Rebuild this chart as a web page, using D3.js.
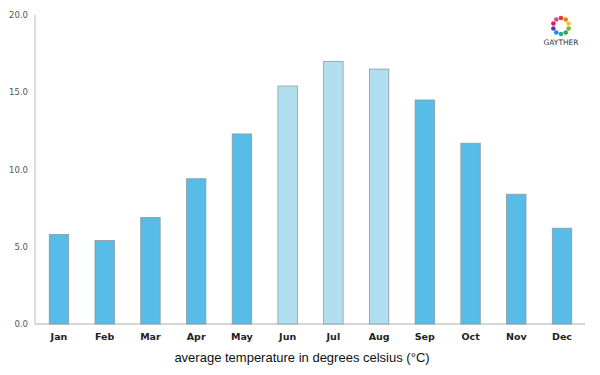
<!DOCTYPE html>
<html><head><meta charset="utf-8">
<script src="https://cdn.jsdelivr.net/npm/d3@7"></script>
<style>body{margin:0;background:#fff}</style>
</head><body>
<svg id="c" width="600" height="375"></svg>
<script>
const months = ["Jan","Feb","Mar","Apr","May","Jun","Jul","Aug","Sep","Oct","Nov","Dec"];
const temps = [5.8,5.4,6.9,9.4,12.3,15.4,17.0,16.5,14.5,11.7,8.4,6.2];
const summer = ["Jun","Jul","Aug"];
const yTicks = [0,5,10,15,20];
const title = "average temperature in degrees celsius (°C)";
const logoColors = ["#e53935","#f57c00","#fbc02d","#7cb342","#43a047","#26a69a","#1e88e5","#5e35b1","#d81b60","#ec407a"];

const svg = d3.select("#c");
const x = d3.scaleBand().domain(months).range([36, 585]).paddingInner(0.575).paddingOuter(0.29);
const y = d3.scaleLinear().domain([0,20]).range([324,15]);

svg.append("line").attr("x1",35).attr("x2",35).attr("y1",15).attr("y2",324).attr("stroke","#d0d0d0").attr("stroke-width",1.5);
svg.append("line").attr("x1",35).attr("x2",585).attr("y1",324).attr("y2",324).attr("stroke","#c8c8c8").attr("stroke-width",1.5);

svg.selectAll("text.yt").data(yTicks).join("text").attr("class","yt")
  .attr("x",28).attr("y",d=>y(d)+3).attr("text-anchor","end")
  .attr("font-family","DejaVu Sans").attr("font-size",8.5).attr("fill","#555")
  .text(d=>d.toFixed(1));

svg.selectAll("rect.bar").data(months).join("rect").attr("class","bar")
  .attr("x",d=>x(d)).attr("width",x.bandwidth())
  .attr("y",(d,i)=>y(temps[i])).attr("height",(d,i)=>y(0)-y(temps[i]))
  .attr("fill",d=>summer.includes(d)?"#b1dff1":"#57bce7")
  .attr("stroke","#8a9aa3").attr("stroke-width",0.8);

svg.selectAll("text.xt").data(months).join("text").attr("class","xt")
  .attr("x",d=>x(d)+x.bandwidth()/2).attr("y",340).attr("text-anchor","middle")
  .attr("font-family","DejaVu Sans").attr("font-size",9.5).attr("font-weight",600).attr("fill","#222")
  .text(d=>d);

svg.append("text").attr("x",302).attr("y",362).attr("text-anchor","middle")
  .attr("font-family","Liberation Sans").attr("font-size",13).attr("fill","#111").text(title);

const lg = svg.append("g").attr("transform","translate(561,26)");
lg.selectAll("circle").data(logoColors).join("circle")
  .attr("cx",(d,i)=>8*Math.cos(i/logoColors.length*2*Math.PI - Math.PI/2))
  .attr("cy",(d,i)=>8*Math.sin(i/logoColors.length*2*Math.PI - Math.PI/2))
  .attr("r",2.3).attr("fill",d=>d);
svg.append("text").attr("x",561).attr("y",45).attr("text-anchor","middle")
  .attr("font-family","DejaVu Sans").attr("font-size",7.5).attr("fill","#333").text("GAYTHER");
</script>
</body></html>
